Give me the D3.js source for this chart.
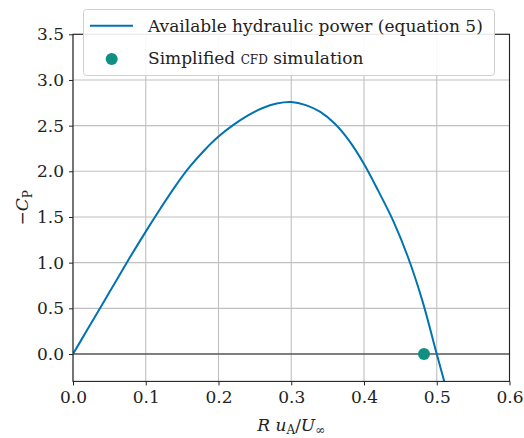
<!DOCTYPE html>
<html lang="en">
<head>
    <meta charset="UTF-8">
    <title>Available hydraulic power</title>
    <script src="https://d3js.org/d3.v7.min.js"></script>
    <style>
        body { margin: 0; background: #fff; }
        text { font-family: "DejaVu Serif", serif; fill: #222; }
        .tick text { font-size: 17px; }
        .grid line { stroke: #c0c0c0; stroke-width: 1.1; }
    </style>
</head>
<body>
<svg id="chart" width="524" height="438"></svg>
<script>
    // Curve (x = R uA / U_inf, y = -C_P)
    const curveX = [0, 0.02, 0.04, 0.06, 0.08, 0.10, 0.12, 0.14, 0.16, 0.18, 0.20, 0.22, 0.24, 0.26, 0.28, 0.30,
                    0.32, 0.34, 0.36, 0.38, 0.40, 0.42, 0.44, 0.46, 0.48, 0.50, 0.511];
    const curveY = [0, 0.27, 0.54, 0.81, 1.08, 1.34, 1.59, 1.83, 2.045, 2.225, 2.38, 2.505, 2.61, 2.69, 2.742, 2.758,
                    2.725, 2.65, 2.52, 2.33, 2.08, 1.78, 1.46, 1.07, 0.59, 0.0, -0.32];

    // Simplified CFD simulation point
    const cfdX = [0.4825];
    const cfdY = [0.0];

    const xTicks = [0, 0.1, 0.2, 0.3, 0.4, 0.5, 0.6];
    const yTicks = [0, 0.5, 1.0, 1.5, 2.0, 2.5, 3.0, 3.5];

    const width = 524, height = 438;
    const margin = { top: 34.3, right: 14.5, bottom: 56.6, left: 73 };
    const innerW = width - margin.left - margin.right;
    const innerH = height - margin.top - margin.bottom;

    const svg = d3.select("#chart");

    const x = d3.scaleLinear().domain([0, 0.6]).range([0, innerW]);
    const y = d3.scaleLinear().domain([-0.3, 3.5]).range([innerH, 0]);

    const g = svg.append("g")
        .attr("transform", `translate(${margin.left},${margin.top})`);

    // clip for the plot area
    svg.append("defs").append("clipPath").attr("id", "clip")
        .append("rect").attr("width", innerW).attr("height", innerH);

    // grid
    g.append("g").attr("class", "grid")
        .selectAll("line.v").data(xTicks).enter().append("line")
        .attr("x1", d => x(d)).attr("x2", d => x(d))
        .attr("y1", 0).attr("y2", innerH);
    g.append("g").attr("class", "grid")
        .selectAll("line.h").data(yTicks).enter().append("line")
        .attr("x1", 0).attr("x2", innerW)
        .attr("y1", d => y(d)).attr("y2", d => y(d));

    // zero line
    g.append("line")
        .attr("x1", 0).attr("x2", innerW)
        .attr("y1", y(0)).attr("y2", y(0))
        .attr("stroke", "#222").attr("stroke-width", 1);

    // curve
    const data = curveX.map((d, i) => [d, curveY[i]]);
    g.append("path")
        .datum(data)
        .attr("clip-path", "url(#clip)")
        .attr("fill", "none")
        .attr("stroke", "#0173b2")
        .attr("stroke-width", 2)
        .attr("d", d3.line().x(d => x(d[0])).y(d => y(d[1])).curve(d3.curveCatmullRom.alpha(0.5)));

    // CFD point
    g.selectAll("circle.cfd")
        .data(cfdX.map((d, i) => [d, cfdY[i]]))
        .enter().append("circle")
        .attr("cx", d => x(d[0])).attr("cy", d => y(d[1]))
        .attr("r", 6)
        .attr("fill", "#108f82");

    // axes
    const xAxis = g.append("g")
        .attr("transform", `translate(0,${innerH})`)
        .call(d3.axisBottom(x).tickValues(xTicks).tickFormat(d3.format(".1f")).tickSize(4).tickPadding(6));
    const yAxis = g.append("g")
        .call(d3.axisLeft(y).tickValues(yTicks).tickFormat(d3.format(".1f")).tickSize(4).tickPadding(5));
    [xAxis, yAxis].forEach(a => {
        a.select(".domain").remove();
        a.selectAll(".tick line").attr("stroke", "#222");
    });

    // frame
    g.append("rect")
        .attr("width", innerW).attr("height", innerH)
        .attr("fill", "none").attr("stroke", "#222").attr("stroke-width", 1.1);

    // axis labels
    const xl = svg.append("text")
        .attr("x", margin.left + innerW / 2).attr("y", 431)
        .attr("text-anchor", "middle").style("font-size", "17px");
    xl.append("tspan").style("font-style", "italic").text("R u");
    xl.append("tspan").attr("dy", 3).style("font-size", "12px").text("A");
    xl.append("tspan").attr("dy", -3).text("/");
    xl.append("tspan").style("font-style", "italic").text("U");
    xl.append("tspan").attr("dy", 3).style("font-size", "12px").text("∞");

    const yl = svg.append("text")
        .attr("transform", `translate(28,${margin.top + innerH / 2}) rotate(-90)`)
        .attr("text-anchor", "middle").style("font-size", "17px");
    yl.append("tspan").text("−");
    yl.append("tspan").style("font-style", "italic").text("C");
    yl.append("tspan").attr("dy", 4).style("font-size", "12px").text("P");

    // legend
    const legend = svg.append("g");
    legend.append("rect")
        .attr("x", 83.5).attr("y", 9.5).attr("width", 411).attr("height", 66)
        .attr("rx", 3)
        .attr("fill", "#fff").attr("fill-opacity", 0.9)
        .attr("stroke", "#d0d0d0");
    legend.append("line")
        .attr("x1", 90).attr("x2", 133).attr("y1", 25.7).attr("y2", 25.7)
        .attr("stroke", "#0173b2").attr("stroke-width", 2);
    legend.append("circle")
        .attr("cx", 111.7).attr("cy", 59).attr("r", 6).attr("fill", "#108f82");
    legend.append("text")
        .attr("x", 148).attr("y", 32)
        .style("font-size", "17px")
        .text("Available hydraulic power (equation 5)");
    const l2 = legend.append("text")
        .attr("x", 148).attr("y", 64)
        .style("font-size", "17px");
    l2.append("tspan").text("Simplified ");
    l2.append("tspan").style("font-variant", "small-caps").text("cfd");
    l2.append("tspan").text(" simulation");
</script>
</body>
</html>
